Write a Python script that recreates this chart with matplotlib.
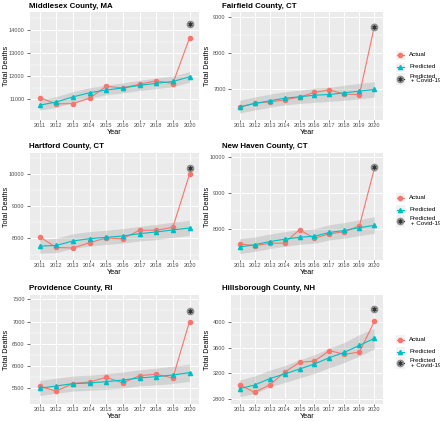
import matplotlib
matplotlib.use('Agg')
import matplotlib.pyplot as plt
from matplotlib.lines import Line2D
from matplotlib.patches import Rectangle

plt.rcParams['font.family'] = ['Liberation Sans', 'DejaVu Sans']

years = [2011, 2012, 2013, 2014, 2015, 2016, 2017, 2018, 2019, 2020]

titles = ['Middlesex County, MA', 'Fairfield County, CT', 'Hartford County, CT',
          'New Haven County, CT', 'Providence County, RI', 'Hillsborough County, NH']

# actual deaths
middlesex_actual = [11070, 10800, 10810, 11040, 11560, 11490, 11650, 11800, 11680, 13650]
fairfield_actual = [6480, 6600, 6630, 6690, 6770, 6900, 6970, 6850, 6840, 8750]
hartford_actual = [8050, 7720, 7700, 7865, 8010, 7990, 8250, 8250, 8340, 9980]
newhaven_actual = [7600, 7550, 7615, 7625, 7990, 7755, 7880, 7935, 8100, 9690]
providence_actual = [5540, 5430, 5600, 5635, 5740, 5615, 5780, 5810, 5725, 7000]
hillsborough_actual = [3027, 2908, 3021, 3217, 3371, 3392, 3552, 3495, 3531, 4005]

# predicted deaths
middlesex_pred = [10740, 10880, 11100, 11280, 11400, 11490, 11600, 11690, 11770, 11970]
fairfield_pred = [6495, 6590, 6664, 6738, 6776, 6822, 6841, 6888, 6935, 6981]
hartford_pred = [7760, 7780, 7917, 7990, 8030, 8073, 8145, 8197, 8260, 8320]
newhaven_pred = [7512, 7577, 7662, 7728, 7784, 7812, 7915, 7972, 8047, 8113]
providence_pred = [5492, 5545, 5598, 5613, 5643, 5680, 5726, 5756, 5793, 5846]
hillsborough_pred = [2965, 3021, 3119, 3191, 3268, 3346, 3444, 3526, 3634, 3742]

# prediction interval
middlesex_lo = [10530, 10640, 10870, 11040, 11190, 11270, 11380, 11460, 11540, 11740]
middlesex_hi = [10960, 11110, 11330, 11500, 11610, 11710, 11820, 11920, 12000, 12200]
fairfield_lo = [6320, 6410, 6480, 6550, 6590, 6620, 6650, 6680, 6720, 6770]
fairfield_hi = [6680, 6770, 6850, 6920, 6960, 7020, 7040, 7100, 7150, 7200]
hartford_lo = [7540, 7560, 7690, 7760, 7810, 7850, 7920, 7960, 8030, 8090]
hartford_hi = [7970, 8000, 8140, 8210, 8250, 8300, 8370, 8430, 8500, 8560]
newhaven_lo = [7330, 7390, 7470, 7530, 7590, 7620, 7710, 7760, 7830, 7890]
newhaven_hi = [7740, 7790, 7870, 7940, 7990, 8020, 8130, 8190, 8270, 8350]
providence_lo = [5330, 5380, 5430, 5450, 5470, 5500, 5550, 5570, 5600, 5650]
providence_hi = [5670, 5720, 5770, 5790, 5820, 5860, 5910, 5950, 5990, 6040]
hillsborough_lo = [2840, 2890, 2990, 3060, 3130, 3200, 3290, 3370, 3470, 3580]
hillsborough_hi = [3100, 3160, 3250, 3320, 3410, 3490, 3590, 3680, 3800, 3900]

# predicted + covid-19 (2020 only)
covid_2020 = [14250, 8730, 10186, 9728, 7244, 4190]

ylims = [(10100, 14780), (6130, 9140), (7330, 10640), (7155, 10110), (5139, 7598), (2728, 4411)]
yticks = [[11000, 12000, 13000, 14000], [7000, 8000, 9000], [8000, 9000, 10000],
          [8000, 9000, 10000], [5500, 6000, 6500, 7000, 7500], [2800, 3200, 3600, 4000]]
yminor = [[10500, 11500, 12500, 13500, 14500], [6500, 7500, 8500], [7500, 8500, 9500, 10500],
          [7500, 8500, 9500], [5250, 5750, 6250, 6750, 7250], [3000, 3400, 3800, 4200]]

actuals = [middlesex_actual, fairfield_actual, hartford_actual, newhaven_actual,
           providence_actual, hillsborough_actual]
preds = [middlesex_pred, fairfield_pred, hartford_pred, newhaven_pred,
         providence_pred, hillsborough_pred]
lows = [middlesex_lo, fairfield_lo, hartford_lo, newhaven_lo, providence_lo, hillsborough_lo]
highs = [middlesex_hi, fairfield_hi, hartford_hi, newhaven_hi, providence_hi, hillsborough_hi]

RED = '#F8766D'
TEAL = '#00BFC4'
W, H = 440, 421

fig = plt.figure(figsize=(W / 100, H / 100), dpi=100)

# panel boxes in pixels: (left, width) and (top, bottom)
cols = [(30, 169), (231, 152)]
rows = [(12, 120), (153, 260), (295, 404)]
title_y = [6, 146, 289]
title_x = [29, 222]
ylab_x = [6, 207]
legend_mid = [67, 209.5, 351.5]


def fx(px):
    return px / W


def fy(py):
    return 1 - py / H


def covid_marker(target, x, y):
    # grey dot with a dark asterisk on top
    target.plot([x], [y], ls='none', marker='o', ms=4.5, color='#8c8c8c', zorder=5)
    target.plot([x], [y], ls='none', marker=(6, 2, 0), ms=3, mew=0.5,
                color='#333333', zorder=6)


for i in range(6):
    r, c = divmod(i, 2)
    left, width = cols[c]
    top, bottom = rows[r]
    ax = fig.add_axes([fx(left), fy(bottom), width / W, (bottom - top) / H])
    ax.set_facecolor('#EBEBEB')
    for s in ax.spines.values():
        s.set_visible(False)

    ax.fill_between(years, lows[i], highs[i], color='#999999', alpha=0.3, lw=0, zorder=2)
    ax.plot(years, actuals[i], color=RED, lw=0.8, marker='o', ms=3, zorder=3)
    ax.plot(years, preds[i], color=TEAL, lw=0.8, marker='^', ms=3, zorder=4)
    covid_marker(ax, years[-1], covid_2020[i])

    ax.set_xlim(years[0] - 0.57, years[-1] + 0.57)
    ax.set_ylim(*ylims[i])
    ax.set_xticks(years)
    ax.set_yticks(yticks[i])
    ax.set_yticks(yminor[i], minor=True)
    ax.grid(True, which='major', color='white', lw=0.7, zorder=0)
    ax.grid(True, which='minor', axis='y', color='white', lw=0.35, zorder=0)
    ax.set_axisbelow(True)
    ax.tick_params(which='major', width=0.5, color='#333333',
                   labelsize=4.1, labelcolor='#4D4D4D')
    ax.tick_params(axis='x', which='major', length=1.5, pad=0.8)
    ax.tick_params(axis='y', which='major', length=2, pad=1.8)
    ax.tick_params(which='minor', length=0)

    fig.text(fx(title_x[c]), fy(title_y[r]), titles[i], fontsize=5.7,
             fontweight='bold', ha='left', va='center')
    fig.text(fx(ylab_x[c]), fy((top + bottom) / 2), 'Total Deaths', fontsize=5.2,
             rotation=90, ha='center', va='center')
    fig.text(fx(left + width / 2), fy(bottom + 12), 'Year', fontsize=5.2,
             ha='center', va='center')

    # legend on the right
    if c == 1:
        m = legend_mid[r]
        entries = [(m - 12, 9, RED, 'o', 'Actual'),
                   (m, 9, TEAL, '^', 'Predicted'),
                   (m + 11.5, 12, 'black', None, 'Predicted\n + Covid-19')]
        for yc, hk, col, mk, lab in entries:
            fig.add_artist(Rectangle((fx(395.5), fy(yc + hk / 2)), 9.5 / W, hk / H,
                                     transform=fig.transFigure, facecolor='#F2F2F2',
                                     edgecolor='none'))
            fig.add_artist(Line2D([fx(396.5), fx(404)], [fy(yc), fy(yc)],
                                  transform=fig.transFigure, color=col, lw=0.8))
            if mk:
                fig.add_artist(Line2D([fx(400.25)], [fy(yc)], transform=fig.transFigure,
                                      color=col, marker=mk, ms=3, ls='none'))
            else:
                fig.add_artist(Line2D([fx(400.25)], [fy(yc)], transform=fig.transFigure,
                                      color='#8c8c8c', marker='o', ms=4.5, ls='none'))
                fig.add_artist(Line2D([fx(400.25)], [fy(yc)], transform=fig.transFigure,
                                      color='#333333', marker=(6, 2, 0), ms=3,
                                      mew=0.5, ls='none'))
            fig.text(fx(409), fy(yc), lab, fontsize=4.5, ha='left', va='center',
                     linespacing=0.95)

fig.savefig('out.png', dpi=100)
